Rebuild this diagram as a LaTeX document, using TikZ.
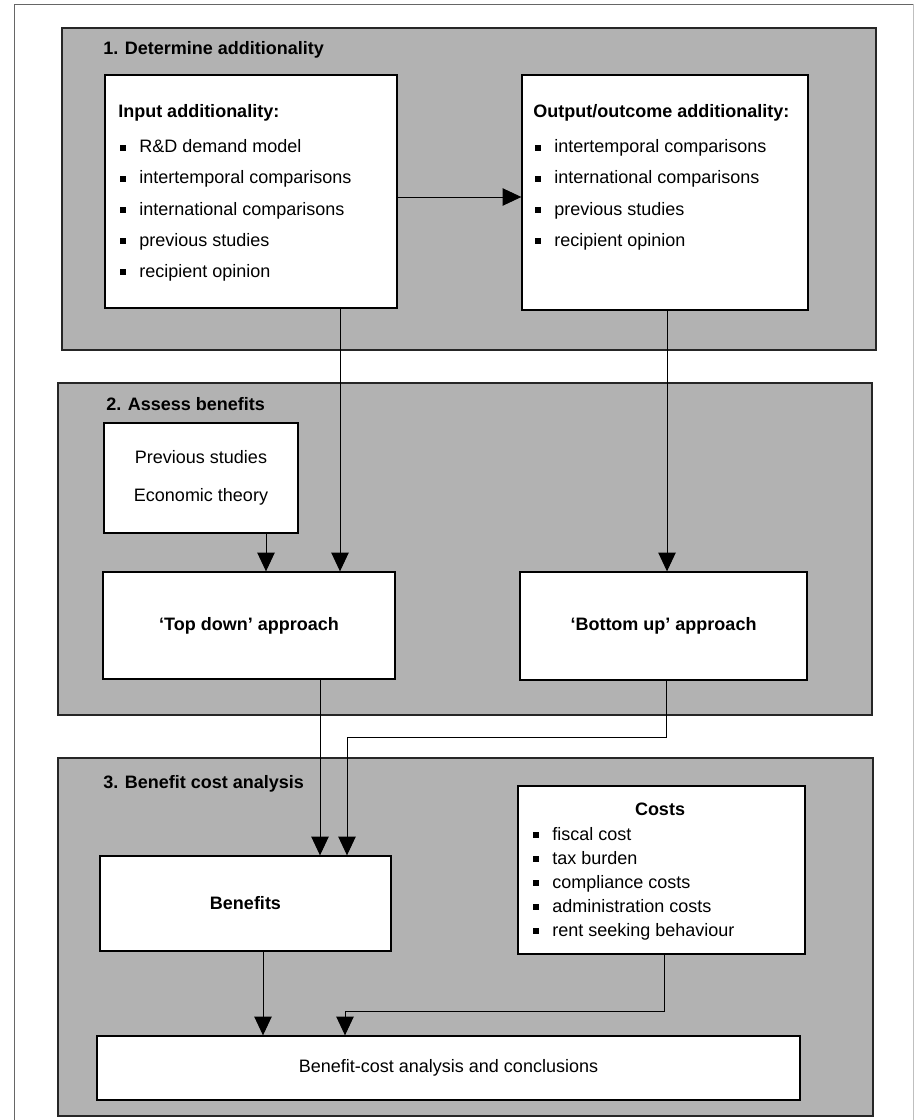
\documentclass[tikz,border=0pt]{standalone}
\usepackage{fontspec}
\setmainfont{Liberation Sans}
\usetikzlibrary{arrows.meta}
\definecolor{panelgray}{RGB}{178,178,178}
\newcommand{\sqbul}{\makebox[14.25pt][l]{\rule[1.6pt]{4.2pt}{4.2pt}}}

\begin{document}
\begin{tikzpicture}[x=0.75pt,y=-0.75pt,
	panel/.style={fill=panelgray,draw=black!85,line width=0.8pt},
	box/.style={draw=black,fill=white,line width=1pt,inner sep=0pt},
	head/.style={font=\fontsize{13.5}{16}\selectfont\bfseries,anchor=base west,inner sep=0pt},
	item/.style={font=\fontsize{13.5}{16}\selectfont,anchor=base west,inner sep=0pt},
	arr/.style={-{Triangle[length=14pt,width=13pt]},line width=0.75pt}]
	\useasboundingbox (0,0) rectangle (915,1120);
	\draw[black!60,line width=0.5pt] (14,1120)--(14,4)--(913,4);
	\draw[black!25,line width=0.5pt] (913,4)--(913,1120);

	% the three stages
	\draw[panel] (62,28) rectangle (876,350);
	\draw[panel] (58,383) rectangle (872,715);
	\draw[panel] (58,758) rectangle (873,1116);
	\node[head] (t1) at (103,55){1. Determine additionality};
	\node[head] (t2) at (106,410){2. Assess benefits};
	\node[head] (t3) at (103,788){3. Benefit cost analysis};

	% boxes
	\node[box,minimum width=219pt,minimum height=174.75pt] (inp) at (251,191.5){};
	\node[box,minimum width=214.5pt,minimum height=176.25pt] (outp) at (665,192.5){};
	\node[box,minimum width=145.5pt,minimum height=82.5pt,align=center,
		font=\fontsize{13.5}{28.5}\selectfont] (prev) at (201,478){Previous studies\\Economic theory};
	\node[box,minimum width=219pt,minimum height=80.25pt,font=\fontsize{13.5}{16}\selectfont\bfseries] (topd) at (249,625.5){‘Top down’ approach};
	\node[box,minimum width=215.25pt,minimum height=81pt,font=\fontsize{13.5}{16}\selectfont\bfseries] (botu) at (663.5,626){‘Bottom up’ approach};
	\node[box,minimum width=218.25pt,minimum height=71.25pt,font=\fontsize{13.5}{16}\selectfont\bfseries] (benf) at (245.5,903.5){Benefits};
	\node[box,minimum width=215.25pt,minimum height=126pt] (cost) at (661.5,870){};
	\node[box,minimum width=527.25pt,minimum height=48pt,font=\fontsize{13.5}{16}\selectfont] (fin) at (448.5,1068){Benefit-cost analysis and conclusions};

	% lists
	\node[head] (inph) at (118,118){Input additionality:};
	\foreach \t [count=\i] in {R\&D demand model,intertemporal comparisons,international comparisons,previous studies,recipient opinion}
		\node[item] (inp\i) at (120,{122+31*\i}){\sqbul\t};
	\node[head] (outh) at (533,118){Output/outcome additionality:};
	\foreach \t [count=\i] in {intertemporal comparisons,international comparisons,previous studies,recipient opinion}
		\node[item] (out\i) at (535,{122+31*\i}){\sqbul\t};
	\node[head,anchor=base] (costh) at (660,815){Costs};
	\foreach \t [count=\i] in {fiscal cost,tax burden,compliance costs,administration costs,rent seeking behaviour}
		\node[item] (cost\i) at (533,{816+24*\i}){\sqbul\t};

	% connectors
	\draw[arr] (inp.east |- 0,197)--(outp.west |- 0,197);
	\draw[arr] (inp.south -| 340,0)--(topd.north -| 340,0);
	\draw[arr] (outp.south -| 667,0)--(botu.north -| 667,0);
	\draw[arr] (prev.south -| 266,0)--(topd.north -| 266,0);
	\draw[arr] (topd.south -| 320,0)--(benf.north -| 320,0);
	\draw[arr] (botu.south -| 666,0) |- (347,737)--(benf.north -| 347,0);
	\draw[arr] (benf.south -| 263,0)--(fin.north -| 263,0);
	\draw[arr] (cost.south -| 664,0) |- (345,1011)--(fin.north -| 345,0);
\end{tikzpicture}
\end{document}
